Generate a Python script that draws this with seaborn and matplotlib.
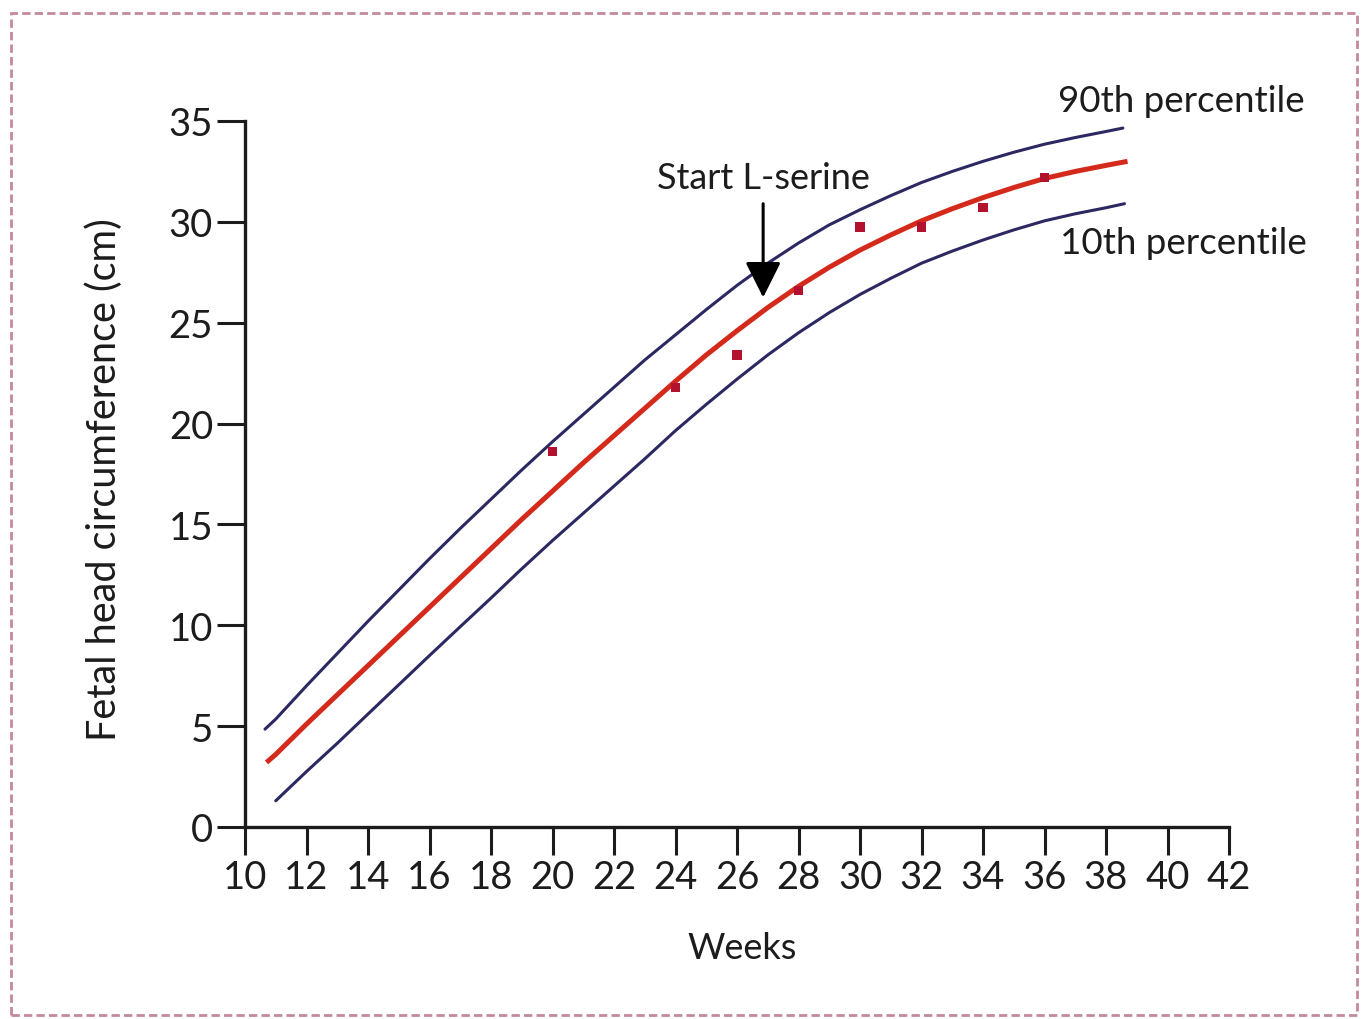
import matplotlib
matplotlib.use("Agg")
import matplotlib.pyplot as plt
import seaborn as sns
import pandas as pd
from matplotlib.patches import Rectangle

# Gestational age (weeks) and head circumference (cm) for the reference curves
weeks_mid = list(range(11, 39))

p90_weeks = [10.65] + weeks_mid + [38.55]
p90_hc = [4.85, 5.35, 7.0, 8.6, 10.2, 11.75, 13.3, 14.8, 16.25, 17.7, 19.1,
          20.45, 21.8, 23.15, 24.4, 25.65, 26.85, 27.95, 28.95, 29.85, 30.6,
          31.3, 31.95, 32.5, 33.0, 33.45, 33.85, 34.18, 34.48, 34.65]

median_weeks = [10.7] + weeks_mid + [38.7]
median_hc = [3.2, 3.6, 5.1, 6.55, 8.0, 9.45, 10.9, 12.35, 13.8, 15.25, 16.65,
             18.05, 19.4, 20.75, 22.1, 23.4, 24.6, 25.75, 26.8, 27.75, 28.6,
             29.35, 30.05, 30.65, 31.2, 31.7, 32.15, 32.5, 32.8, 33.0]

p10_weeks = weeks_mid + [38.6]
p10_hc = [1.3, 2.75, 4.15, 5.6, 7.05, 8.5, 9.93, 11.35, 12.8, 14.2, 15.55,
          16.9, 18.25, 19.65, 20.95, 22.2, 23.4, 24.5, 25.5, 26.4, 27.2,
          27.95, 28.55, 29.1, 29.6, 30.05, 30.4, 30.7, 30.9]

# Measured fetal head circumference
obs_weeks = [20, 24, 26, 28, 30, 32, 34, 36]
obs_hc = [18.6, 21.8, 23.4, 26.6, 29.75, 29.75, 30.7, 32.2]

x_ticks = list(range(10, 44, 2))
y_ticks = list(range(0, 40, 5))

sns.set_theme(style="ticks")
FONT = ["Lato", "DejaVu Sans"]
plt.rcParams["font.family"] = FONT

navy = "#2b2862"
red = "#d42a1c"
ink = "#1c1c1c"

fig = plt.figure(figsize=(13.63, 10.20), dpi=100, facecolor="white")
ax = fig.add_axes([245 / 1363, 1 - 828 / 1020, (1229 - 245) / 1363, (828 - 122) / 1020])
ax.set_facecolor("white")

p90 = pd.DataFrame({"week": p90_weeks, "hc": p90_hc})
med = pd.DataFrame({"week": median_weeks, "hc": median_hc})
p10 = pd.DataFrame({"week": p10_weeks, "hc": p10_hc})
obs = pd.DataFrame({"week": obs_weeks, "hc": obs_hc})

sns.lineplot(data=p90, x="week", y="hc", ax=ax, color=navy, lw=2.2,
             sort=False, estimator=None)
sns.lineplot(data=p10, x="week", y="hc", ax=ax, color=navy, lw=2.2,
             sort=False, estimator=None)
sns.lineplot(data=med, x="week", y="hc", ax=ax, color=red, lw=3.6,
             sort=False, estimator=None, solid_capstyle="butt")
sns.scatterplot(data=obs, x="week", y="hc", ax=ax, marker="s", s=45,
                color="#b3122e", edgecolor="none", zorder=4)

ax.set_xlim(10, 42)
ax.set_ylim(0, 35)
ax.set_xticks(x_ticks)
ax.set_yticks(y_ticks)
ax.tick_params(axis="both", length=20, width=2.2, color=ink, labelsize=27.5,
               labelcolor=ink, pad=3)
for side in ("top", "right"):
    ax.spines[side].set_visible(False)
for side in ("left", "bottom"):
    ax.spines[side].set_linewidth(2.4)
    ax.spines[side].set_color(ink)

ax.set_xlabel("Weeks", fontsize=26, color=ink)
ax.set_ylabel("Fetal head circumference (cm)", fontsize=28.5, color=ink)
ax.xaxis.set_label_coords(0.505, -0.148)
ax.yaxis.set_label_coords(-0.124, 0.493)

# Curve labels
ax.text(36.44, 36.0, "90th percentile", fontsize=26.5, color=ink,
        ha="left", va="center", clip_on=False)
ax.text(36.5, 29.0, "10th percentile", fontsize=26.5, color=ink,
        ha="left", va="center", clip_on=False)

# Treatment start marker
ax.text(26.85, 32.2, "Start L-serine", fontsize=26, color=ink,
        ha="center", va="center")
ax.annotate("", xy=(26.85, 26.25), xytext=(26.85, 30.9),
            arrowprops=dict(arrowstyle="-|>,head_length=1.1,head_width=0.55",
                            mutation_scale=20, color="black", lw=2.2,
                            shrinkA=0, shrinkB=0))

# Dashed frame around the figure
fig.patches.append(Rectangle((11 / 1363, 1 - 1016 / 1020), (1357 - 11) / 1363,
                             (1016 - 14) / 1020, transform=fig.transFigure,
                             fill=False, ls=(0, (3, 1.5)), lw=2,
                             ec="#c48a9c"))

fig.savefig("out.png", dpi=100, facecolor="white")
